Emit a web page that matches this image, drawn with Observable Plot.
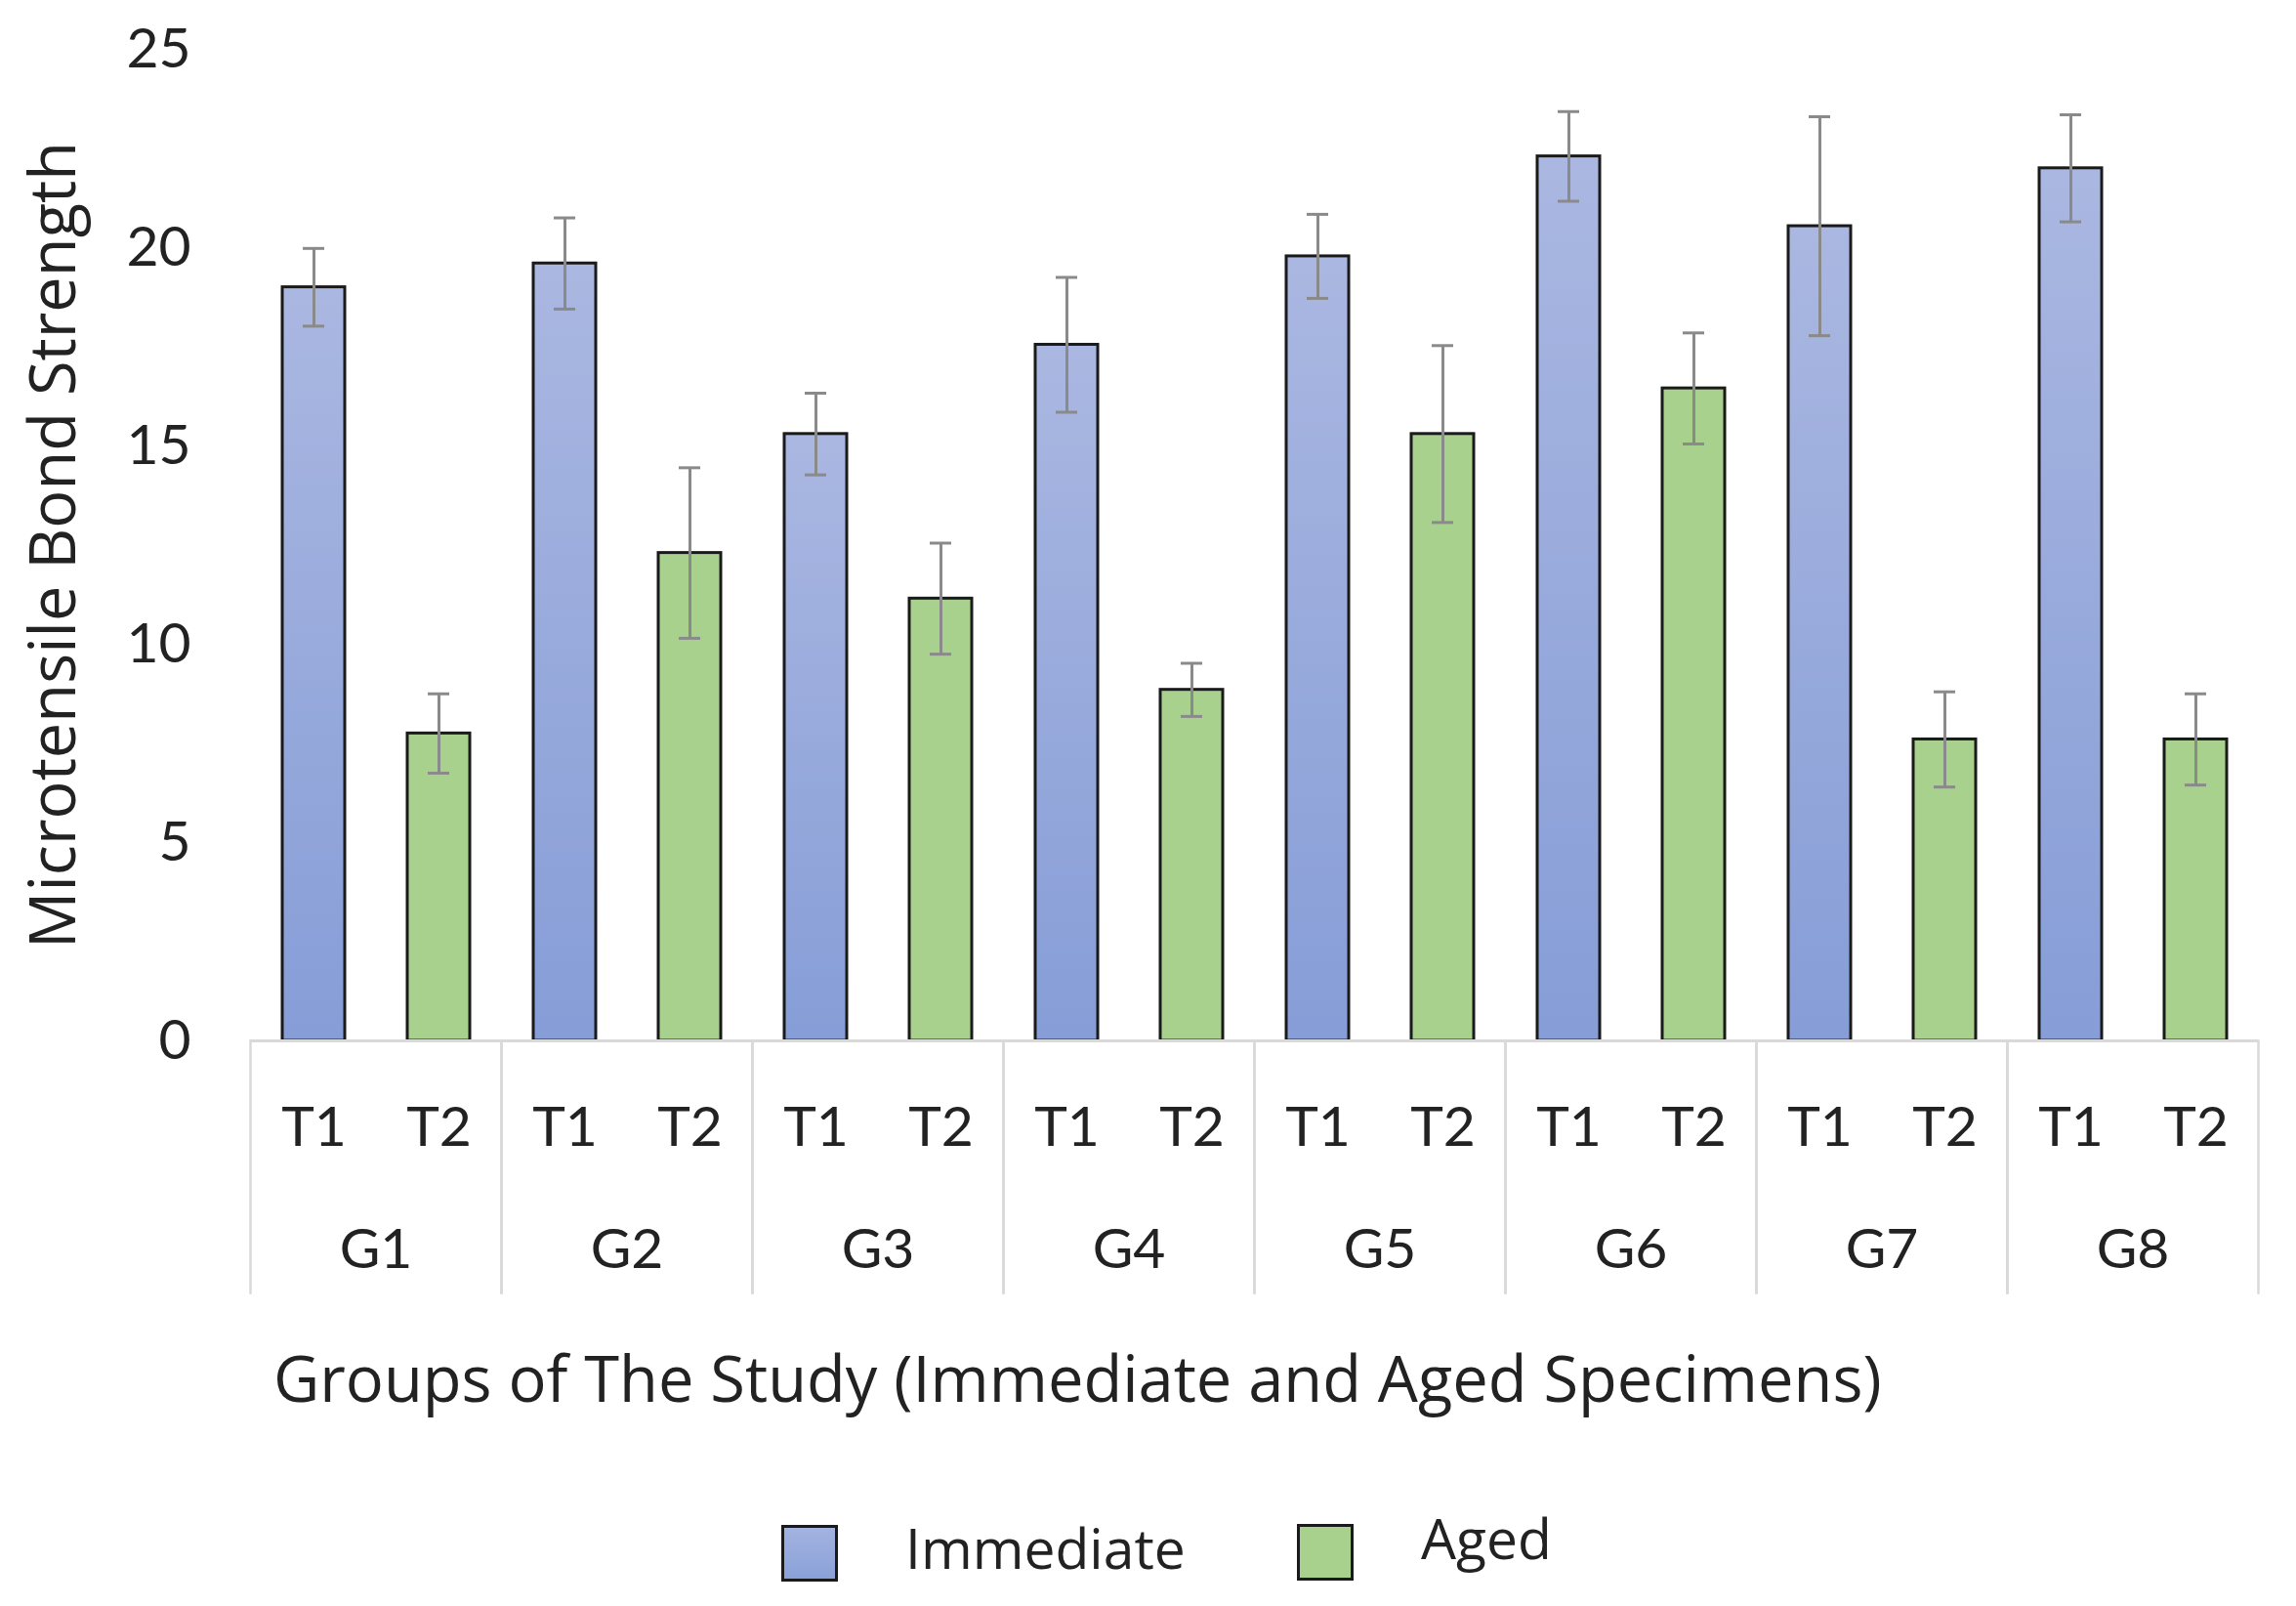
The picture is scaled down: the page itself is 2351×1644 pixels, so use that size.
<!DOCTYPE html>
<html>
<head>
<meta charset="utf-8">
<script src="https://cdn.jsdelivr.net/npm/d3@7"></script>
<script src="https://cdn.jsdelivr.net/npm/@observablehq/plot@0.6"></script>
<style>
  body { margin: 0; background: #fff; }
  #wrap { position: relative; width: 2351px; height: 1644px; background: #fff; overflow: hidden; }
  #chart svg { display: block; }
  g[aria-label="y-axis label"] text { font-family: "Open Sans", sans-serif; font-size: 65px; }
  #xtitle { position: absolute; left: 280px; top: 1378px; font-family: "Open Sans", sans-serif; font-size: 65px; line-height: 1; color: #222; white-space: nowrap; }
  .sw { position: absolute; width: 52px; height: 52px; border: 3px solid #1a1a1a; }
  .lt { position: absolute; font-family: "Open Sans", sans-serif; font-size: 57px; line-height: 1; color: #222; white-space: nowrap; }
</style>
</head>
<body>
<div id="wrap">
  <div id="chart"></div>
  <div id="xtitle"></div>
  <div id="legend"></div>
</div>
<script>
// ---- data ----
const groups = ["G1", "G2", "G3", "G4", "G5", "G6", "G7", "G8"];
const times = ["T1", "T2"];
const seriesNames = ["Immediate", "Aged"];
const immediateMean = [19.0, 19.6, 15.3, 17.55, 19.78, 22.3, 20.54, 22.0];
const immediateErr  = [0.98, 1.15, 1.03, 1.7, 1.06, 1.13, 2.76, 1.35];
const agedMean      = [7.75, 12.3, 11.15, 8.85, 15.3, 16.45, 7.6, 7.6];
const agedErr       = [1.0, 2.15, 1.4, 0.67, 2.23, 1.4, 1.2, 1.15];
const yTicks = [0, 5, 10, 15, 20, 25];
const yTitle = "Microtensile Bond Strength";
const xTitle = "Groups of The Study (Immediate and Aged Specimens)";

const seriesColors = ["url(#blueGrad)", "#a9d18e"];

const rows = groups.flatMap((g, i) => [
  {group: g, t: times[0], series: seriesNames[0], value: immediateMean[i], err: immediateErr[i]},
  {group: g, t: times[1], series: seriesNames[1], value: agedMean[i], err: agedErr[i]}
]);

const textColor = "#222";
const errColor = "#8a8a8a";
const lineColor = "#d9d9d9";

const H = 1340, MT = 50, MB = 275;
const plotH = H - MT - MB;

const plot = Plot.plot({
  width: 2351,
  height: H,
  marginLeft: 256,
  marginRight: 39,
  marginTop: MT,
  marginBottom: MB,
  style: {fontFamily: "Lato, sans-serif", color: textColor, background: "#fff", overflow: "visible"},
  fx: {domain: groups, padding: 0, axis: null},
  x: {domain: times, paddingInner: 0.5, paddingOuter: 0.25, axis: null},
  y: {domain: [0, 25], axis: null},
  color: {domain: seriesNames, range: seriesColors},
  marks: [
    Plot.axisY({
      ticks: yTicks, tickSize: 0, tickPadding: 61, fontSize: 57,
      label: yTitle, labelAnchor: "center", labelOffset: 226, labelArrow: "none"
    }),
    Plot.barY(rows, {fx: "group", x: "t", y: "value", fill: "series", stroke: "#1a1a1a", strokeWidth: 3}),
    Plot.ruleX(rows, {fx: "group", x: "t", y1: d => d.value - d.err, y2: d => d.value + d.err, stroke: errColor, strokeWidth: 3}),
    Plot.tickY(rows, {fx: "group", x: "t", y: d => d.value + d.err, stroke: errColor, strokeWidth: 3, insetLeft: 21, insetRight: 21}),
    Plot.tickY(rows, {fx: "group", x: "t", y: d => d.value - d.err, stroke: errColor, strokeWidth: 3, insetLeft: 21, insetRight: 21}),
    Plot.ruleY([0], {stroke: lineColor, strokeWidth: 3}),
    Plot.frame({anchor: "left", stroke: lineColor, strokeWidth: 2.5, insetTop: plotH, insetBottom: -258}),
    Plot.frame({anchor: "right", stroke: lineColor, strokeWidth: 2.5, insetTop: plotH, insetBottom: -258}),
    Plot.text(rows, {fx: "group", x: "t", text: "t", frameAnchor: "bottom", dy: 107, fontSize: 57, fill: textColor}),
    Plot.text(groups, {fx: d => d, text: d => d, frameAnchor: "bottom", dy: 232, fontSize: 57, fill: textColor})
  ]
});

// gradient for the "Immediate" bars
const defs = d3.select(plot).insert("defs", ":first-child");
const grad = defs.append("linearGradient").attr("id", "blueGrad")
  .attr("x1", 0).attr("y1", 0).attr("x2", 0).attr("y2", 1);
grad.append("stop").attr("offset", "0%").attr("stop-color", "#aab7e1");
grad.append("stop").attr("offset", "100%").attr("stop-color", "#869dd7");

document.getElementById("chart").appendChild(plot);
document.getElementById("xtitle").textContent = xTitle;

// legend
const legend = document.getElementById("legend");
const legendItems = [
  {name: seriesNames[0], bg: "linear-gradient(#a3b3e0, #8aa1d8)", sx: 800, sy: 1561, tx: 927, ty: 1556},
  {name: seriesNames[1], bg: "#a9d18e", sx: 1328, sy: 1560, tx: 1455, ty: 1546}
];
legendItems.forEach(it => {
  const s = document.createElement("div");
  s.className = "sw";
  s.style.left = it.sx + "px"; s.style.top = it.sy + "px"; s.style.background = it.bg;
  legend.appendChild(s);
  const t = document.createElement("div");
  t.className = "lt";
  t.style.left = it.tx + "px"; t.style.top = it.ty + "px";
  t.textContent = it.name;
  legend.appendChild(t);
});
</script>
</body>
</html>
